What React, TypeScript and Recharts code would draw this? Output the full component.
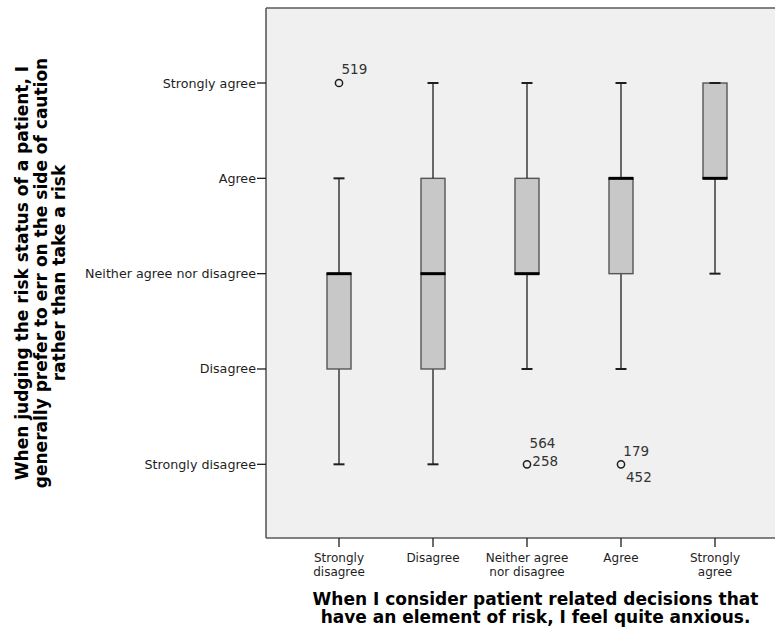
import React from 'react';
import { ComposedChart, Bar, Scatter, XAxis, YAxis, CartesianGrid, ReferenceLine } from 'recharts';

// ---- data ----
const categories = ['Strongly disagree', 'Disagree', 'Neither agree nor disagree', 'Agree', 'Strongly agree'];
const xTickLabels = [['Strongly', 'disagree'], ['Disagree'], ['Neither agree', 'nor disagree'], ['Agree'], ['Strongly', 'agree']];
const yTickValues = [1, 2, 3, 4, 5];
const yTickLabels = ['Strongly disagree', 'Disagree', 'Neither agree nor disagree', 'Agree', 'Strongly agree'];
const whiskerLow = [1, 1, 2, 2, 3];
const quartile1 = [2, 2, 3, 3, 4];
const medians = [3, 3, 3, 4, 4];
const quartile3 = [3, 4, 4, 4, 5];
const whiskerHigh = [4, 5, 5, 5, 5];
const outlierValues: (number | null)[] = [5, null, 1, 1, null];
const outlierIds: string[][] = [['519'], [], ['564', '258'], ['179', '452'], []];

const xTitle = ['When I consider patient related decisions that', 'have an element of risk, I feel quite anxious.'];
const yTitle = ['When judging the risk status of a patient, I', 'generally prefer to err on the side of caution', 'rather than take a risk'];

const yDomain: [number, number] = [0.227, 5.787];

const data = categories.map((name, i) => ({
  name,
  base: whiskerLow[i],
  lowWhisker: quartile1[i] - whiskerLow[i],
  lowBox: medians[i] - quartile1[i],
  highBox: quartile3[i] - medians[i],
  highWhisker: whiskerHigh[i] - quartile3[i],
  min: whiskerLow[i],
  max: whiskerHigh[i],
  median: medians[i],
  outlier: outlierValues[i],
  ids: outlierIds[i],
}));

// ---- styling / layout ----
const FONT = 'DejaVu Sans';
const INK = '#1e1e1e';
const AXIS = '#5a5a5a';
const BOX_FILL = '#c8c8c8';
const BOX_STROKE = '#555555';
const BG = '#f0f0f0';

// label placement for outlier ids (dx, baseline dy) relative to circle
const labelPlacement: Record<number, [number, number][]> = {
  0: [[2.5, -9.5]],
  2: [[2.6, -16.5], [5.3, 1.5]],
  3: [[2.3, -8.5], [5.0, 17.5]],
};

const Empty = () => <g />;

const WhiskerShape = (p: any) => {
  const { x, y, width, height } = p;
  if (!height || height <= 0) return <g />;
  const cx = x + width / 2;
  return <line x1={cx} x2={cx} y1={y} y2={y + height} stroke={INK} strokeWidth={1.3} />;
};

const BoxShape = (p: any) => {
  const { x, y, width, height } = p;
  if (!height || height <= 0) return <g />;
  return <rect x={x} y={y} width={width} height={height} fill={BOX_FILL} stroke={BOX_STROKE} strokeWidth={1.4} />;
};

const MedianShape = (p: any) => {
  const { cx, cy } = p;
  return <line x1={cx - 12.5} x2={cx + 12.5} y1={cy} y2={cy} stroke="#000" strokeWidth={3} />;
};

const CapShape = (p: any) => {
  const { cx, cy } = p;
  return <line x1={cx - 5.5} x2={cx + 5.5} y1={cy} y2={cy} stroke={INK} strokeWidth={2} />;
};

const OutlierShape = (p: any) => {
  const { cx, cy, payload } = p;
  if (!payload || payload.outlier == null || cx == null || cy == null || isNaN(cy)) return <g />;
  const idx = categories.indexOf(payload.name);
  const place = labelPlacement[idx] || [];
  return (
    <g>
      <circle cx={cx} cy={cy} r={3.6} fill="none" stroke={INK} strokeWidth={1.5} />
      {payload.ids.map((id: string, k: number) => {
        const [dx, dy] = place[k] || [3, -9 + k * 16];
        return (
          <text key={id} x={cx + dx} y={cy + dy} fontSize={13.5} fontFamily={FONT} fill="#333">
            {id}
          </text>
        );
      })}
    </g>
  );
};

const XTick = (p: any) => {
  const { x, y, payload } = p;
  const idx = categories.indexOf(payload.value);
  const lines = idx >= 0 ? xTickLabels[idx] : [String(payload.value)];
  return (
    <text x={x} y={y} textAnchor="middle" fontSize={12} fontFamily={FONT} fill={INK}>
      {lines.map((l, i) => (
        <tspan key={i} x={x} dy={i === 0 ? 12.5 : 14}>
          {l}
        </tspan>
      ))}
    </text>
  );
};

const renderXTitle = (p: any) => {
  const vb = p.viewBox || { x: 266, y: 538, width: 522, height: 94 };
  const cx = vb.x + vb.width / 2 + 8.5;
  return (
    <text x={cx} y={vb.y + 67} textAnchor="middle" fontSize={17} fontWeight="bold" fontFamily={FONT} fill="#000">
      {xTitle.map((l, i) => (
        <tspan key={i} x={cx} dy={i === 0 ? 0 : 18.3}>
          {l}
        </tspan>
      ))}
    </text>
  );
};

const renderYTitle = (p: any) => {
  const vb = p.viewBox || { x: 0, y: 8, width: 266, height: 530 };
  const cy = vb.y + vb.height / 2;
  return (
    <text transform="rotate(-90)" x={-cy} y={28.3} textAnchor="middle" fontSize={17} fontWeight="bold" fontFamily={FONT} fill="#000">
      {yTitle.map((l, i) => (
        <tspan key={i} x={-cy} dy={i === 0 ? 0 : 18.3}>
          {l}
        </tspan>
      ))}
    </text>
  );
};

export default function App() {
  return (
    <div style={{ position: 'absolute', left: 0, top: 0, width: 775, height: 632, overflow: 'hidden', background: '#fff' }}>
      <ComposedChart
        width={790}
        height={632}
        data={data}
        margin={{ top: 8, right: 2, bottom: 0, left: 0 }}
        style={{ fontFamily: FONT }}
      >
        <CartesianGrid horizontal={false} vertical={false} fill={BG} fillOpacity={1} stroke="none" />
        <XAxis
          dataKey="name"
          type="category"
          interval={0}
          padding={{ left: 26, right: 26 }}
          height={94}
          tickSize={9}
          tickMargin={2}
          tick={XTick}
          axisLine={{ stroke: AXIS, strokeWidth: 1.6 }}
          tickLine={{ stroke: INK, strokeWidth: 1.3 }}
          label={renderXTitle}
        />
        <YAxis
          type="number"
          domain={yDomain}
          allowDataOverflow
          ticks={yTickValues}
          interval={0}
          width={266}
          tickSize={9}
          tickMargin={1}
          tickFormatter={(v: number) => yTickLabels[yTickValues.indexOf(v)] ?? ''}
          tick={{ fontSize: 12.7, fill: INK, fontFamily: FONT }}
          axisLine={{ stroke: AXIS, strokeWidth: 1.6 }}
          tickLine={{ stroke: INK, strokeWidth: 1.3 }}
          label={renderYTitle}
        />
        <ReferenceLine y={yDomain[1]} stroke={AXIS} strokeWidth={1.6} ifOverflow="extendDomain" />
        <Bar dataKey="base" stackId="bp" barSize={24} shape={Empty} isAnimationActive={false} />
        <Bar dataKey="lowWhisker" stackId="bp" barSize={24} shape={WhiskerShape} isAnimationActive={false} />
        <Bar dataKey="lowBox" stackId="bp" barSize={24} shape={BoxShape} isAnimationActive={false} />
        <Bar dataKey="highBox" stackId="bp" barSize={24} shape={BoxShape} isAnimationActive={false} />
        <Bar dataKey="highWhisker" stackId="bp" barSize={24} shape={WhiskerShape} isAnimationActive={false} />
        <Scatter dataKey="min" shape={CapShape} isAnimationActive={false} />
        <Scatter dataKey="max" shape={CapShape} isAnimationActive={false} />
        <Scatter dataKey="median" shape={MedianShape} isAnimationActive={false} />
        <Scatter dataKey="outlier" shape={OutlierShape} isAnimationActive={false} />
      </ComposedChart>
    </div>
  );
}
